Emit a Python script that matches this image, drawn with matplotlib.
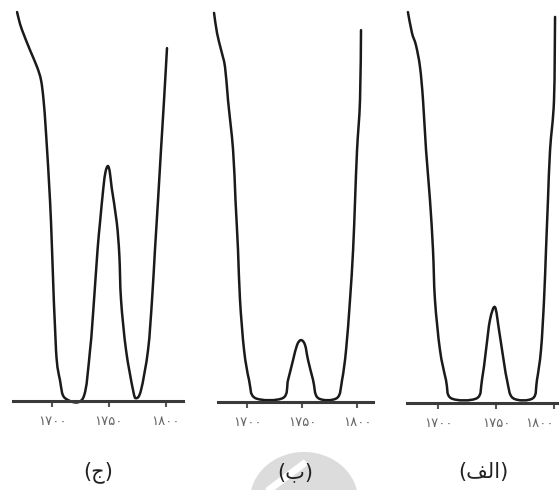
import numpy as np
import matplotlib.pyplot as plt
from matplotlib.patches import Ellipse, PathPatch
from matplotlib.path import Path

plt.rcParams['font.family'] = ['DejaVu Sans']

# طیف (ج) - عدد موج (cm-1) و عبور (%)
nu_c = [1669.2, 1670.9, 1673.6, 1680.6, 1686.8, 1690.3, 1692.5, 1694.7, 1698.2,
        1700.0, 1703.5, 1707.0, 1711.5, 1727.3, 1733.5, 1737.0, 1740.1, 1742.3,
        1745.2, 1747.1, 1749.2, 1750.9, 1752.6, 1757.0, 1759.3, 1760.8, 1765.2,
        1771.4, 1774.0, 1778.4, 1784.6, 1788.1, 1790.7, 1793.4, 1796.0, 1798.7,
        1801.3]
t_c = [97.0, 95.0, 92.5, 87.5, 83.3, 80.0, 75.1, 66.8, 50.1,
       37.7, 12.7, 5.2, 0.7, 0.7, 12.7, 25.2, 37.7, 44.6,
       53.1, 57.1, 58.6, 57.1, 53.1, 44.6, 36.4, 25.2, 12.7,
       2.7, 0.7, 2.7, 12.7, 25.2, 37.7, 50.1, 62.6, 75.1,
       88.0]

# طیف (ب)
nu_b = [1670.0, 1672.7, 1676.4, 1680.0, 1682.7, 1687.3, 1689.5, 1691.8, 1693.6,
        1697.3, 1701.8, 1707.3, 1732.7, 1737.3, 1741.8, 1745.5, 1749.1, 1752.7,
        1755.5, 1760.0, 1764.5, 1781.8, 1786.4, 1790.0, 1793.6, 1796.4, 1798.2,
        1800.0, 1802.7, 1803.6]
t_b = [96.8, 91.8, 87.6, 83.3, 75.1, 62.7, 50.2, 37.8, 25.4,
       12.9, 5.5, 1.0, 1.0, 5.5, 10.4, 14.2, 15.4, 14.2,
       10.4, 5.5, 1.0, 1.0, 5.5, 12.9, 25.4, 37.8, 50.2,
       62.7, 75.1, 92.5]

# طیف (الف)
nu_a = [1674.1, 1677.6, 1681.0, 1684.5, 1687.1, 1689.7, 1693.1, 1695.7, 1697.4,
        1701.7, 1706.9, 1711.2, 1733.6, 1737.9, 1741.4, 1744.8, 1749.1, 1752.6,
        1755.2, 1759.5, 1764.7, 1781.9, 1785.3, 1788.8, 1791.4, 1793.1, 1794.8,
        1796.6, 1800.0, 1800.9]
t_a = [97.0, 91.8, 88.8, 83.4, 75.2, 62.8, 50.4, 38.0, 25.6,
       13.2, 5.7, 1.2, 1.2, 5.7, 13.2, 20.6, 23.8, 18.1,
       13.2, 5.7, 1.2, 1.2, 5.7, 13.2, 25.6, 38.0, 50.4,
       62.8, 75.2, 95.8]

ticks = [1700, 1750, 1800]
tick_labels = ['۱۷۰۰', '۱۷۵۰', '۱۸۰۰']
captions = ['(ج)', '(ب)', '(ﻒﻟﺍ)']

W, H = 559, 490
fig = plt.figure(figsize=(W / 100, H / 100), dpi=100)


def smooth_path(x, y, sx, sy):
    # مسیر بزیه‌ی نرم که از همه‌ی نقطه‌ها می‌گذرد
    p = np.column_stack([np.asarray(x) * sx, np.asarray(y) * sy])
    verts = [p[0]]
    codes = [Path.MOVETO]
    n = len(p)
    for i in range(n - 1):
        a = p[max(i - 1, 0)]
        b = p[i]
        c = p[i + 1]
        d = p[min(i + 2, n - 1)]
        verts += [b + (c - a) / 6, c - (d - b) / 6, c]
        codes += [Path.CURVE4] * 3
    v = np.array(verts)
    v[:, 0] /= sx
    v[:, 1] /= sy
    return Path(v, codes)


# محل هر نمودار به پیکسل: چپ، راست، خط محور، بازه‌ی x
panels = [
    (nu_c, t_c, 13, 183, 401, (1665.6, 1815.4)),
    (nu_b, t_b, 218, 373, 402, (1673.6, 1814.5)),
    (nu_a, t_a, 407, 559, 403, (1673.3, 1804.3)),
]

# نشان کم‌رنگ پس‌زمینه
wm = fig.add_axes([0, 0, 1, 1], zorder=0)
wm.set_xlim(0, W)
wm.set_ylim(H, 0)
wm.axis('off')
wm.add_patch(Ellipse((304, 500), 108, 96, color='#dcdcdc', lw=0))
wm.plot([266, 306], [492, 462], color='white', lw=5, solid_capstyle='butt')

for k, ((nu, t, x0, x1, yb, xl), cap) in enumerate(zip(panels, captions)):
    ax = fig.add_axes([x0 / W, (H - yb) / H, (x1 - x0) / W, yb / H], zorder=2)
    ax.patch.set_alpha(0)
    ax.set_xlim(*xl)
    ax.set_ylim(0, 100)
    sx = (x1 - x0) / (xl[1] - xl[0])
    sy = yb / 100
    ax.add_patch(PathPatch(smooth_path(nu, t, sx, sy), fill=False,
                           edgecolor='#1a1a1a', lw=1.8, clip_on=False,
                           joinstyle='round', capstyle='round'))
    for s in ['top', 'left', 'right']:
        ax.spines[s].set_visible(False)
    ax.spines['bottom'].set_linewidth(2.2)
    ax.spines['bottom'].set_color('#3a3a3a')
    ax.set_yticks([])
    ax.set_xticks(ticks)
    labels = ax.set_xticklabels(tick_labels, fontsize=9.5, color='#666666')
    if k == 2:
        labels[-1].set_horizontalalignment('right')
        labels[-1].set_x(1803.5)
    ax.tick_params(axis='x', direction='out', length=4, width=1.5,
                   color='#555555', pad=6)
    xc = (x0 + x1) / 2
    fig.text(xc / W, 1 - 472 / H, cap, ha='center', va='center',
             fontsize=15, color='#222222', zorder=3)

fig.savefig('out.png', dpi=100)
